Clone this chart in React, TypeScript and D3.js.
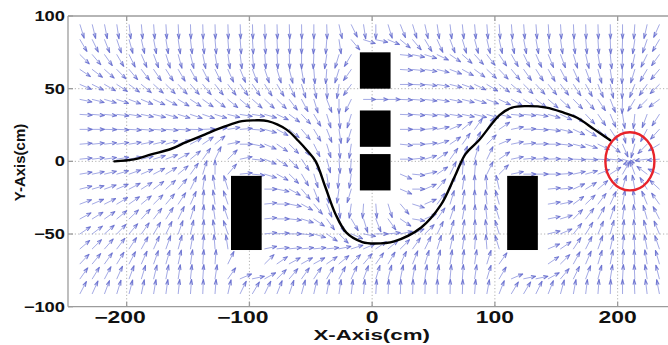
import React from 'react';
import * as d3 from 'd3';

const W = 668;
const H = 345;

const xTicks = [-200, -100, 0, 100, 200];
const yTicks = [-100, -50, 0, 50, 100];

// quiver grid (data units)
const gridX = [-238, -228, -218, -208, -198, -188, -178, -168, -158, -148, -138, -128, -117.5, -107.5, -97.5, -87.5, -77.5, -67.5, -57.5, -47.5, -37, -27, -17, -7, 3, 13, 23, 33, 43, 53, 63.5, 73.5, 83.5, 93.5, 103.5, 113.5, 123.5, 133.5, 143.5, 153.5, 164, 174, 184, 194, 204, 214, 224, 234];
const gridY = [94, 83.7, 73.4, 63.2, 52.9, 42.6, 32.3, 22, 11.8, 1.5, -8.8, -19.1, -29.4, -39.6, -49.9, -60.2, -70.5, -80.8, -91];

// arrow directions in degrees (0 = +x, 90 = +y), one row per gridY; null = no arrow
const N = null;
const row00 = [-70,-74,-77,-80,-82,-84,-85,-86,-87,-88, -88,-88,-88,-88,-88,-88,-88,-88,-89,-90, -88,-75,-60,-80,-90,-70,-65,-70,-75,-80, -82,-83,-84,-85,-85,-85,-85,-85,-86,-86, -87,-88,-88,-89,-90,-95,-105,-118];
const row01 = [-55,-60,-65,-68,-72,-75,-77,-79,-80,-82, -83,-84,-85,-85,-86,-86,-87,-88,-90,-92, -95,-80,-45,-15,-10,-20,-35,-45,-55,-62, -66,-70,-72,-74,-75,-76,-77,-78,-79,-80, -82,-84,-86,-88,-92,-100,-112,-125];
const row02 = [-40,-45,-50,-55,-60,-63,-66,-69,-72,-74, -76,-78,-80,-82,-84,-85,-86,-88,-90,-93, -100,-110,-125,N,N,N,-5,-10,-15,-22, -30,-37,-43,-48,-52,-56,-60,-62,-64,-66, -70,-74,-78,-83,-92,-105,-120,-130];
const row03 = [-30,-33,-37,-41,-45,-48,-51,-53,-55,-57, -59,-60,-62,-64,-66,-68,-70,-73,-78,-85, -95,-110,-130,N,N,N,-3,-5,-8,-12, -18,-25,-32,-38,-42,-46,-50,-53,-56,-58, -62,-66,-72,-80,-93,-110,-125,-135];
const row04 = [-20,-23,-26,-29,-32,-35,-37,-40,-42,-44, -46,-47,-48,-50,-51,-53,-55,-62,-70,-78, -88,-100,-130,N,N,N,0,-2,-5,-8, -12,-17,-22,-27,-32,-36,-40,-43,-46,-48, -52,-57,-64,-75,-92,-115,-130,-140];
const row05 = [-10,-12,-14,-16,-18,-20,-22,-24,-27,-29, -31,-33,-35,-36,-37,-38,-40,-48,-58,-70, -65,-90,-120,0,0,0,-2,-4,-6,-8, -10,-12,-15,-18,-22,-26,-30,-33,-36,-38, -41,-45,-52,-65,-92,-125,-140,-148];
const row06 = [-3,-4,-5,-6,-8,-10,-12,-14,-15,-16, -16,-15,-12,-8,-8,-14,-22,-32,-42,-55, -70,-85,-110,N,N,N,-2,-4,-5,-6, -8,-10,-12,-14,-12,-5,-5,-8,-14,-22, -33,-42,-51,-63,-79,-97,-114,-127];
const row07 = [0,0,-1,-2,-3,-4,-4,-4,-3,-1, 2,6,8,4,-4,-14,-25,-35,-45,-55, -65,-80,-110,N,N,N,0,0,5,10, 20,35,50,55,30,10,2,-2,-6,-12, -22,-29,-38,-52,-75,-100,-122,-137];
const row08 = [4,5,6,7,8,10,12,14,17,25, 30,35,10,0,-10,-20,-30,-40,-50,-60, -70,-85,-100,N,N,N,-5,0,5,15, 30,50,60,40,20,10,5,2,0,-5, -12,-16,-22,-35,-63,-108,-139,-153];
const row09 = [5,6,7,8,10,12,15,18,25,35, 50,60,40,10,-5,-20,-30,-42,-52,-62, -72,-85,-95,N,N,N,0,5,15,30, 50,65,70,60,30,10,5,3,2,0, -2,-2,-3,-5,-15,-159,-174,-176];
const row10 = [8,10,12,14,17,20,24,28,35,50, 70,90,45,5,-5,-15,-25,-40,-55,-70, -80,-95,-100,N,N,N,-20,-5,10,30, 60,85,85,60,40,10,0,0,0,3, 11,14,19,29,56,114,147,159];
const row11 = [12,14,17,20,24,28,33,38,45,60, 80,100,110,N,N,0,-10,-25,-45,-65, -80,-100,-110,N,N,N,-20,0,20,45, 65,80,90,95,105,N,N,N,5,5, 22,28,36,50,72,102,126,142];
const row12 = [18,20,23,27,31,35,40,45,52,62, 85,100,112,N,N,5,0,-10,-25,-45, -65,-85,-100,-95,-85,-70,-45,-15,20,50, 70,80,90,97,108,N,N,N,8,10, 32,39,48,61,78,98,116,130];
const row13 = [25,28,31,35,39,43,48,53,60,70, 85,100,112,N,N,5,0,-5,-15,-30, -50,-65,-55,-70,-65,-50,-30,-8,20,50, 68,78,88,97,110,N,N,N,10,15, 41,48,57,68,81,96,109,121];
const row14 = [30,33,37,41,45,50,55,60,67,75, 85,100,112,N,N,5,3,0,-5,-15, -30,-40,-20,-10,0,5,10,20,40,60, 72,80,88,97,110,N,N,N,12,20, 47,54,63,72,83,95,106,116];
const row15 = [36,40,44,48,52,57,62,67,72,78, 85,95,100,N,N,10,5,5,5,5, 5,10,15,20,30,35,40,50,60,70, 75,80,85,95,110,N,N,N,20,30, 52,59,67,75,84,94,103,112];
const row16 = [42,46,50,54,58,62,67,71,75,80, 85,85,60,N,N,40,30,25,25,25, 30,35,40,45,50,55,60,65,70,75, 80,82,80,70,50,N,N,N,30,40, 57,63,70,77,85,93,101,109];
const row17 = [50,54,58,62,66,70,74,77,80,83, 85,80,50,20,10,25,40,45,50,52, 55,58,62,66,70,73,76,78,80,82, 84,85,80,70,55,20,10,10,25,45, 60,66,72,79,86,93,100,107];
const row18 = [58,62,66,70,73,76,79,81,83,85, 87,85,75,60,55,60,65,68,72,75, 78,80,82,84,86,87,88,88,88,89, 89,88,85,78,65,55,55,60,65,72, 78,82,85,88,90,93,98,103];
const angleRows = [row00,row01,row02,row03,row04,row05,row06,row07,row08,row09,row10,row11,row12,row13,row14,row15,row16,row17,row18];

// obstacles [x0, x1, y0, y1]
const obstacleX0 = [-115, -10, -10, -10, 110];
const obstacleX1 = [-90, 15, 15, 15, 135];
const obstacleY0 = [-61, 50, 10, -20, -61];
const obstacleY1 = [-10, 75, 35, 5, -10];

// goal
const goalX = 210;
const goalY = 0;
const goalR = 20;

// robot path
const pathX = [-210,-194,-180,-164,-152,-136,-120,-106,-96,-85,-70,-60,-53,-46,-38,-30,-21,-8,2,18,40,56,67,76,87,104,114,125,142,156,167,181,194];
const pathY = [0,1.4,4.8,8.5,13,18.6,24,27.7,28.2,27.7,22,14,7.5,0,-18,-36,-49,-55.5,-56.5,-55,-45.5,-30,-11,5,14.5,32,37,38,37,33.5,30,22,14.5];

const ARROW_LEN = 9.7;
const FONT = "'Liberation Sans', Arial, Helvetica, sans-serif";

export default function App() {
  const x = d3.scaleLinear().domain([-247.8, 250]).range([68, 679]);
  const y = d3.scaleLinear().domain([-100, 100]).range([306.7, 16]);
  const left = x(-247.8);
  const top = y(100);
  const bottom = y(-100);
  const right = W + 5;

  const alpha = 0.33;
  const beta = 0.33;
  const shafts: string[] = [];
  const heads: string[] = [];
  angleRows.forEach((row, ri) => {
    row.forEach((a, ci) => {
      if (a === null || a === undefined) return;
      const x0 = gridX[ci];
      const y0 = gridY[ri];
      const t = (a * Math.PI) / 180;
      const u = ARROW_LEN * Math.cos(t);
      const v = ARROW_LEN * Math.sin(t);
      const x1 = x0 + u;
      const y1 = y0 + v;
      shafts.push(`M${x(x0).toFixed(2)},${y(y0).toFixed(2)}L${x(x1).toFixed(2)},${y(y1).toFixed(2)}`);
      const hx1 = x1 - alpha * (u + beta * v);
      const hy1 = y1 - alpha * (v - beta * u);
      const hx2 = x1 - alpha * (u - beta * v);
      const hy2 = y1 - alpha * (v + beta * u);
      heads.push(`M${x(hx1).toFixed(2)},${y(hy1).toFixed(2)}L${x(x1).toFixed(2)},${y(y1).toFixed(2)}L${x(hx2).toFixed(2)},${y(hy2).toFixed(2)}`);
    });
  });

  const line = d3
    .line<number>()
    .x((i) => x(pathX[i]))
    .y((i) => y(pathY[i]))
    .curve(d3.curveCatmullRom.alpha(0.5));
  const pathD = line(pathX.map((_, i) => i)) || '';

  const sxY = 1.31;
  const xFont = 16;
  const sxX = 1.43;
  const digitW = xFont * 0.556 * sxX;

  return (
    <div style={{ position: 'absolute', left: 0, top: 0, width: W, height: H, background: '#fff' }}>
      <svg width={W} height={H} viewBox={`0 0 ${W} ${H}`} style={{ display: 'block' }}>
        <rect x={0} y={0} width={W} height={H} fill="#fff" />
        <defs>
          <clipPath id="plotclip">
            <rect x={left} y={top} width={right - left} height={bottom - top} />
          </clipPath>
        </defs>
        {/* grid */}
        <g stroke="#a8a8a8" strokeWidth={0.9} strokeDasharray="1.2,2.2" fill="none">
          {xTicks.map((t) => (
            <line key={'gx' + t} x1={x(t)} x2={x(t)} y1={top} y2={bottom} />
          ))}
          {yTicks.filter((t) => t !== 100 && t !== -100).map((t) => (
            <line key={'gy' + t} x1={left} x2={right} y1={y(t)} y2={y(t)} />
          ))}
        </g>
        {/* quiver */}
        <g clipPath="url(#plotclip)" fill="none" strokeLinecap="round" strokeLinejoin="round">
          <path d={shafts.join('')} stroke="#8d94de" strokeWidth={0.9} opacity={0.9} />
          <path d={heads.join('')} stroke="#6169cc" strokeWidth={1.15} opacity={0.85} />
        </g>
        {/* obstacles */}
        <g fill="#000">
          {obstacleX0.map((x0, i) => (
            <rect
              key={'ob' + i}
              x={x(x0)}
              y={y(obstacleY1[i])}
              width={x(obstacleX1[i]) - x(x0)}
              height={y(obstacleY0[i]) - y(obstacleY1[i])}
            />
          ))}
        </g>
        {/* path */}
        <path d={pathD} fill="none" stroke="#000" strokeWidth={2.4} strokeLinecap="round" />
        {/* goal */}
        <ellipse
          cx={x(goalX)}
          cy={y(goalY)}
          rx={x(goalX + goalR) - x(goalX)}
          ry={y(goalY - goalR) - y(goalY)}
          fill="none"
          stroke="#e8232a"
          strokeWidth={2.4}
        />
        {/* axes box */}
        <g stroke="#9c9c9c" strokeWidth={1.3} fill="none">
          <line x1={left} x2={right} y1={top} y2={top} />
          <line x1={left} x2={right} y1={bottom} y2={bottom} />
          <line x1={left} x2={left} y1={top} y2={bottom} />
          {xTicks.map((t) => (
            <g key={'tx' + t}>
              <line x1={x(t)} x2={x(t)} y1={bottom} y2={bottom - 5} />
              <line x1={x(t)} x2={x(t)} y1={top} y2={top + 5} />
            </g>
          ))}
          {yTicks.map((t) => (
            <line key={'ty' + t} x1={left} x2={left + 5} y1={y(t)} y2={y(t)} />
          ))}
        </g>
        {/* y tick labels */}
        <g fontFamily={FONT} fontWeight="bold" fontSize={14} fill="#111">
          {yTicks.map((t) => (
            <text key={'yl' + t} textAnchor="end" transform={`translate(65,${y(t) + 5}) scale(${sxY},1)`}>
              {t < 0 ? '\u2212' + Math.abs(t) : String(t)}
            </text>
          ))}
        </g>
        {/* x tick labels */}
        <g fontFamily={FONT} fontWeight="bold" fontSize={xFont} fill="#111">
          {xTicks.map((t) => {
            const digits = String(Math.abs(t));
            const endX = x(t) + (digits.length * digitW) / 2;
            return (
              <text key={'xl' + t} textAnchor="end" transform={`translate(${endX},322.8) scale(${sxX},1)`}>
                {t < 0 ? '\u2212' + digits : digits}
              </text>
            );
          })}
        </g>
        {/* axis titles */}
        <text
          fontFamily={FONT}
          fontWeight="bold"
          fontSize={14.5}
          fill="#111"
          textAnchor="middle"
          transform={`translate(371.7,339.6) scale(1.54,1)`}
        >
          X-Axis(cm)
        </text>
        <text
          fontFamily={FONT}
          fontWeight="bold"
          fontSize={15}
          fill="#111"
          textAnchor="middle"
          transform={`translate(25,162.5) rotate(-90)`}
        >
          Y-Axis(cm)
        </text>
      </svg>
    </div>
  );
}
